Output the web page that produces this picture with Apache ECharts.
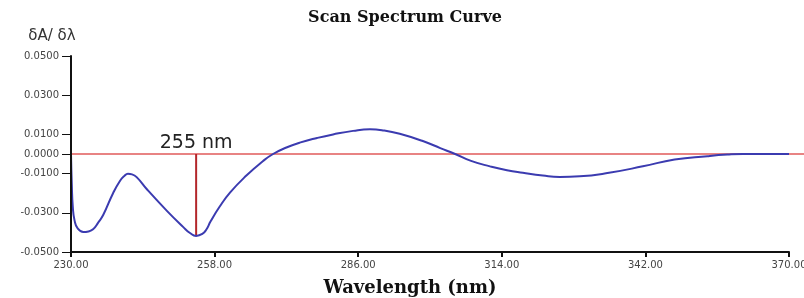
<!DOCTYPE html>
<html>
<head>
<meta charset="utf-8">
<script src="https://cdn.jsdelivr.net/npm/echarts@6/dist/echarts.min.js"></script>
<style>
  html, body { margin: 0; padding: 0; background: #fff; }
  #chart { width: 804px; height: 298px; }
</style>
</head>
<body>
<div id="chart"></div>
<script>
// wavelength (nm) and first derivative dA/dλ
const wavelengths = [
  230, 230.15, 230.35, 230.7, 231.3, 232.4, 233.4, 234.3, 235.3, 236.3, 238.2, 239.6, 240.4, 241.1,
  241.9, 242.8, 244.8, 248.7, 251.9, 253.2, 254.4, 255.6, 256.4, 257.2, 259, 261, 264.2, 267.4, 269.4,
  272, 274.6, 278, 281.1, 285, 288.3, 291, 294.1, 298.6, 302, 304.9, 308, 311.7, 315, 318.1,
  322, 325.3, 329.2, 334.9, 341.5, 347.7, 354.1, 358, 361, 370
];
const derivative = [
  0, -0.015, -0.027, -0.034, -0.038, -0.0398, -0.0395, -0.0384, -0.035, -0.031, -0.020, -0.0135, -0.0112, -0.0101,
  -0.0104, -0.0118, -0.018, -0.029, -0.0373, -0.0403, -0.0418, -0.0408, -0.0385, -0.0345, -0.0268, -0.0197, -0.011, -0.0037, 0,
  0.0033, 0.0058, 0.0082, 0.010, 0.0118, 0.0126, 0.012, 0.0103, 0.0066, 0.003, 0, -0.0035, -0.0063, -0.0083, -0.0096,
  -0.011, -0.0117, -0.0114, -0.0096, -0.0063, -0.0028, -0.0011, -0.0003, 0, 0
];

const xTicks = [230, 258, 286, 314, 342, 370];
const yTicks = [0.05, 0.03, 0.01, 0, -0.01, -0.03, -0.05];

// baseline runs past the axis end to the right edge
const baseline = [[230, 0], [372.9, 0]];
const peakMark = { nm: 254.4, value: -0.0418, label: '255 nm' };

const chart = echarts.init(document.getElementById('chart'));

chart.setOption({
  animation: false,
  title: {
    text: 'Scan Spectrum Curve',
    left: 400,
    top: 5,
    textAlign: 'center',
    textStyle: { fontFamily: 'DejaVu Serif', fontWeight: 'bold', fontSize: 16, color: '#111' }
  },
  grid: [
    { left: 71, right: 15, top: 56, bottom: 46, outerBoundsMode: 'none' },
    // same scale, stretched to the right edge, only for the zero line
    { left: 71, right: 0, top: 56, bottom: 46, outerBoundsMode: 'none' }
  ],
  xAxis: [{
    type: 'value',
    min: 230,
    max: 370,
    name: 'Wavelength (nm)',
    nameLocation: 'middle',
    nameGap: 27,
    nameTextStyle: { fontFamily: 'DejaVu Serif', fontWeight: 'bold', fontSize: 18, color: '#111', padding: [0, 40, 0, 0] },
    axisLine: { onZero: false, lineStyle: { color: '#111', width: 2 } },
    axisTick: { customValues: xTicks, length: 5, lineStyle: { color: '#111', width: 2 } },
    axisLabel: {
      customValues: xTicks,
      formatter: (v) => v.toFixed(2),
      fontFamily: 'DejaVu Sans',
      fontSize: 10,
      color: '#444',
      margin: 8
    },
    splitLine: { show: false },
    z: 5
  }, {
    type: 'value',
    gridIndex: 1,
    min: 230,
    max: 372.9,
    show: false
  }],
  yAxis: [{
    type: 'value',
    min: -0.05,
    max: 0.05,
    name: 'δA/ δλ',
    nameLocation: 'end',
    nameGap: 12,
    nameTextStyle: { fontFamily: 'DejaVu Sans', fontSize: 15, color: '#333', align: 'center', padding: [0, 38, 0, 0] },
    axisLine: { onZero: false, lineStyle: { color: '#111', width: 2 } },
    axisTick: { customValues: yTicks, length: 9, lineStyle: { color: '#111', width: 1 } },
    axisLabel: {
      customValues: yTicks,
      formatter: (v) => v.toFixed(4),
      fontFamily: 'DejaVu Sans',
      fontSize: 10,
      color: '#444',
      margin: 12
    },
    splitLine: { show: false },
    z: 5
  }, {
    type: 'value',
    gridIndex: 1,
    min: -0.05,
    max: 0.05,
    show: false
  }],
  series: [
    {
      type: 'line',
      xAxisIndex: 1,
      yAxisIndex: 1,
      data: baseline,
      showSymbol: false,
      silent: true,
      lineStyle: { color: '#e05a5a', width: 1.5 },
      z: 1
    },
    {
      type: 'line',
      data: [[peakMark.nm, 0], [peakMark.nm, peakMark.value]],
      symbol: 'circle',
      symbolSize: 0,
      showSymbol: true,
      silent: true,
      label: {
        show: true,
        position: 'top',
        distance: 1,
        formatter: (p) => (p.dataIndex === 0 ? peakMark.label : ''),
        fontFamily: 'DejaVu Sans',
        fontSize: 19,
        color: '#222'
      },
      lineStyle: { color: '#b3262a', width: 2 },
      z: 2
    },
    {
      type: 'line',
      data: wavelengths.map((w, i) => [w, derivative[i]]),
      smooth: 0.5,
      showSymbol: false,
      lineStyle: { color: '#3b3bb0', width: 2 },
      z: 3
    }
  ]
});
</script>
</body>
</html>
